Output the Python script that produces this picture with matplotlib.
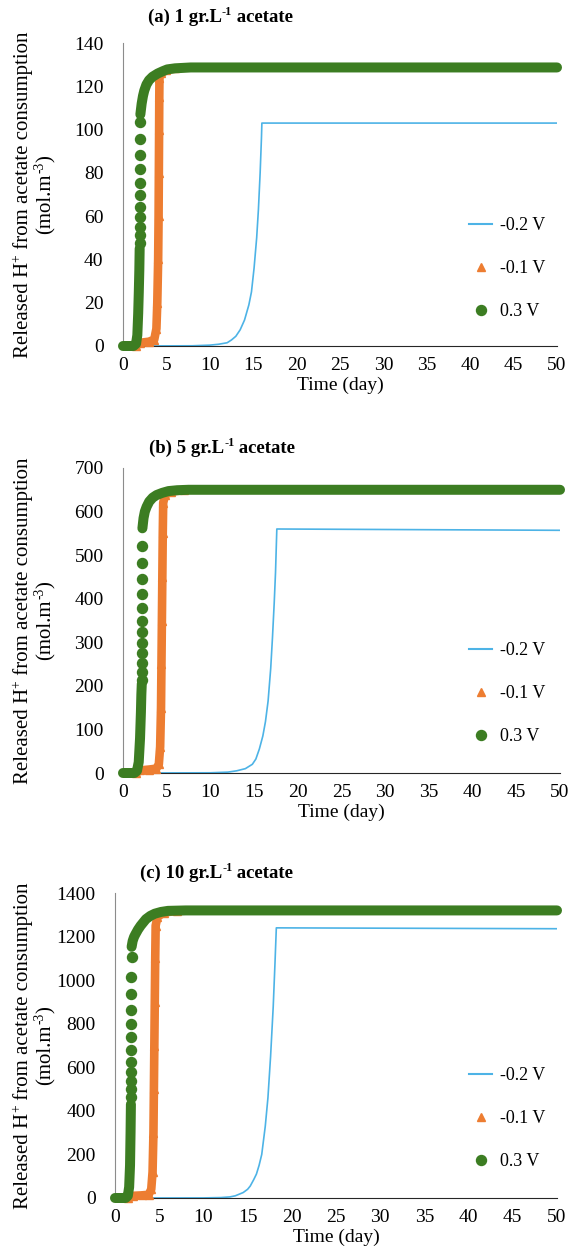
import numpy as np
import matplotlib
matplotlib.use('Agg')
import matplotlib.pyplot as plt
from matplotlib.lines import Line2D

plt.rcParams['font.family'] = ['Liberation Serif', 'DejaVu Serif']

BLUE, ORANGE, GREEN = '#4DB3E6', '#ED7D31', '#3C7D22'

# ---- (a) 1 g/L ----
blue_a_t = [0, 8, 10, 11, 12, 12.5, 13, 13.5, 14, 14.5, 14.8, 15.1, 15.4, 15.6, 15.8, 15.95, 16.0, 50]
blue_a_y = [0, 0.1, 0.4, 0.8, 1.5, 2.8, 4.5, 7.5, 12, 19, 25, 36, 50, 63, 80, 96, 103, 103]
orange_a_t = [1.5, 2.0, 3.0, 3.6, 3.85, 3.95, 4.05, 4.1, 4.13, 4.16, 4.18, 4.2, 4.4, 5.0, 6.0]
orange_a_y = [0, 1.5, 2, 3, 8, 20, 40, 60, 80, 100, 115, 124, 126, 127.5, 128.3]
green_a_t = [0, 1.2, 1.5, 1.65, 1.75, 1.82, 1.88, 1.92]
green_a_y = [0, 0, 1, 5, 15, 25, 35, 45]
green_a_dot_t = [1.93, 1.94, 1.94, 1.95, 1.95, 1.96, 1.96, 1.97, 1.97, 1.98, 1.98]
green_a_dot_y = [47.7, 51.3, 55.1, 59.5, 64.4, 69.8, 75.5, 81.6, 88.2, 95.5, 103.6]
green_a_top_t = [2.0, 2.15, 2.3, 2.45, 2.7, 3.0, 3.4, 4.0, 4.6, 5.1, 6.0, 7.8, 50]
green_a_top_y = [107, 112, 115.5, 118, 120.8, 122.8, 124.4, 125.9, 127, 127.8, 128.3, 128.7, 128.7]

# ---- (b) 5 g/L ----
blue_b_t = [0, 10, 12, 13, 14, 14.8, 15.2, 15.6, 16.0, 16.3, 16.6, 16.9, 17.1, 17.3, 17.45, 17.6, 50]
blue_b_y = [0, 0.5, 2, 5, 10, 20, 32, 55, 85, 118, 165, 240, 310, 390, 460, 560, 557]
orange_b_t = [1.5, 2.0, 3.0, 3.8, 4.1, 4.25, 4.35, 4.4, 4.45, 4.5, 4.55, 4.6, 4.8, 5.5, 7.0]
orange_b_y = [0, 6, 8, 10, 20, 60, 150, 250, 350, 450, 550, 620, 638, 646, 649]
green_b_t = [0, 1.3, 1.6, 1.8, 1.95, 2.05, 2.1, 2.15]
green_b_y = [0, 0, 5, 25, 80, 140, 180, 205]
green_b_dot_t = [2.16, 2.17, 2.17, 2.18, 2.18, 2.19, 2.19, 2.2, 2.2, 2.21, 2.21, 2.22]
green_b_dot_y = [213.4, 232.5, 253.1, 274.7, 297.7, 322.9, 349.5, 379.4, 410.8, 445, 482.7, 521.7]
green_b_top_t = [2.22, 2.35, 2.5, 2.7, 3.0, 3.4, 3.85, 4.5, 5.2, 6.2, 7.5, 50]
green_b_top_y = [561.6, 585, 600, 611, 623, 632, 638, 643, 647, 649, 650, 650]

# ---- (c) 10 g/L ----
blue_c_t = [0, 10, 12, 13, 13.6, 14.5, 15.0, 15.3, 15.7, 16.0, 16.3, 16.6, 17.0, 17.3, 17.6, 17.9, 18.1, 18.25, 50]
blue_c_y = [0, 0.5, 2, 5, 10, 25, 40, 55, 85, 110, 150, 200, 330, 460, 650, 880, 1080, 1240, 1236]
orange_c_t = [1.5, 2.0, 3.0, 3.8, 4.1, 4.25, 4.35, 4.4, 4.45, 4.5, 4.55, 4.6, 4.8, 5.5, 7.0]
orange_c_y = [0, 10, 12, 15, 40, 120, 300, 500, 700, 900, 1100, 1250, 1290, 1310, 1318]
green_c_t = [0, 1.2, 1.45, 1.6, 1.7, 1.76, 1.8]
green_c_y = [0, 0, 10, 50, 150, 300, 430]
green_c_dot_t = [1.81, 1.82, 1.82, 1.83, 1.83, 1.84, 1.84, 1.85, 1.85, 1.86, 1.86, 1.87]
green_c_dot_y = [465, 499, 538, 580, 626, 679, 738, 799, 863, 936, 1016, 1105]
green_c_top_t = [1.88, 2.0, 2.15, 2.3, 2.6, 2.9, 3.5, 4.0, 4.5, 5.2, 6.0, 8.0, 50]
green_c_top_y = [1153, 1180, 1198, 1210, 1232, 1250, 1280, 1295, 1305, 1313, 1318, 1320, 1320]

panels = [
    dict(rect=[123, 43, 557, 346], ymax=140, ystep=20, conc='1',
         title_xy=(148, 22), leg_top=217,
         blue=(blue_a_t, blue_a_y), orange=(orange_a_t, orange_a_y),
         green=(green_a_t, green_a_y), gdots=(green_a_dot_t, green_a_dot_y),
         gtop=(green_a_top_t, green_a_top_y)),
    dict(rect=[123, 468, 560, 773], ymax=700, ystep=100, conc='5',
         title_xy=(149, 453), leg_top=642,
         blue=(blue_b_t, blue_b_y), orange=(orange_b_t, orange_b_y),
         green=(green_b_t, green_b_y), gdots=(green_b_dot_t, green_b_dot_y),
         gtop=(green_b_top_t, green_b_top_y)),
    dict(rect=[115, 893, 557, 1198], ymax=1400, ystep=200, conc='10',
         title_xy=(140, 878), leg_top=1067,
         blue=(blue_c_t, blue_c_y), orange=(orange_c_t, orange_c_y),
         green=(green_c_t, green_c_y), gdots=(green_c_dot_t, green_c_dot_y),
         gtop=(green_c_top_t, green_c_top_y)),
]

W, H = 568, 1257
fig = plt.figure(figsize=(W / 100, H / 100), dpi=100)
renderer = fig.canvas.get_renderer()
FS = 14
MS = 6.2


def text_w(s, size, weight='normal'):
    t = fig.text(0, 0, s, fontsize=size, fontweight=weight)
    w = t.get_window_extent(renderer).width
    t.remove()
    return w


def rich_text(parts, x, y, size, weight='normal', vertical=False, center=False):
    """parts: list of (string, is_superscript). x, y: pixels from top-left, baseline start."""
    sizes = [size * 0.65 if sup else size for _, sup in parts]
    widths = [text_w(s.replace(' ', '\u00a0'), sz, weight) for (s, _), sz in zip(parts, sizes)]
    pos = -sum(widths) / 2 if center else 0.0
    for (s, sup), sz, w in zip(parts, sizes, widths):
        rise = size * 100 / 72 * 0.38 if sup else 0.0
        if vertical:
            px, py = x - rise, y - pos
        else:
            px, py = x + pos, y - rise
        fig.text(px / W, 1 - py / H, s.replace(' ', '\u00a0'), fontsize=sz, fontweight=weight,
                 ha='left', va='baseline', rotation=90 if vertical else 0,
                 rotation_mode='anchor')
        pos += w


for i, p in enumerate(panels):
    x0, y0, x1, y1 = p['rect']
    ax = fig.add_axes([x0 / W, 1 - y1 / H, (x1 - x0) / W, (y1 - y0) / H])
    ax.plot(*p['blue'], color=BLUE, lw=1.2, zorder=2)
    # orange triangles: overlapping band + markers
    ax.plot(*p['orange'], color=ORANGE, lw=MS, solid_capstyle='round',
            solid_joinstyle='round', zorder=3, clip_on=False)
    ax.plot(*p['orange'], ls='none', marker='^', ms=MS, color=ORANGE, zorder=3, clip_on=False)
    # green circles
    for key in ('green', 'gtop'):
        ax.plot(*p[key], color=GREEN, lw=MS + 1, solid_capstyle='round',
                solid_joinstyle='round', zorder=4, clip_on=False)
    ax.plot(*p['gdots'], ls='none', marker='o', ms=MS + 1, color=GREEN, zorder=4, clip_on=False)

    ax.set_xlim(0, 50)
    ax.set_ylim(0, p['ymax'])
    ax.set_xticks(np.arange(0, 51, 5))
    ax.set_yticks(np.arange(0, p['ymax'] + 1, p['ystep']))
    ax.tick_params(length=0, labelsize=FS)
    ax.tick_params(axis='x', pad=8)
    ax.tick_params(axis='y', pad=14)
    for s in ('top', 'right'):
        ax.spines[s].set_visible(False)
    ax.spines['left'].set_color('#8c8c8c')
    ax.spines['bottom'].set_color('#262626')
    ax.set_xlabel('Time (day)', fontsize=FS, labelpad=2)

    tx, ty = p['title_xy']
    rich_text([('(' + 'abc'[i] + ') ' + p['conc'] + ' gr.L', False), ('-1', True),
               (' acetate', False)], tx, ty, 13.5, weight='bold')

    yc = (y0 + y1) / 2
    rich_text([('Released H', False), ('+', True), (' from acetate consumption', False)],
              28, yc, 15, vertical=True, center=True)
    rich_text([('(mol.m', False), ('-3', True), (')', False)], 51, yc, 15, vertical=True, center=True)

    handles = [Line2D([], [], color=BLUE, lw=1.5),
               Line2D([], [], ls='none', marker='^', ms=MS, color=ORANGE),
               Line2D([], [], ls='none', marker='o', ms=MS + 1, color=GREEN)]
    ax.legend(handles, ['-0.2 V', '-0.1 V', '0.3 V'], loc='upper left',
              bbox_to_anchor=(469 / W, 1 - p['leg_top'] / H), bbox_transform=fig.transFigure,
              frameon=False, fontsize=13, labelspacing=1.45, handlelength=1.3,
              handletextpad=0.4, borderpad=0, borderaxespad=0)

fig.savefig('out.png', dpi=100)
